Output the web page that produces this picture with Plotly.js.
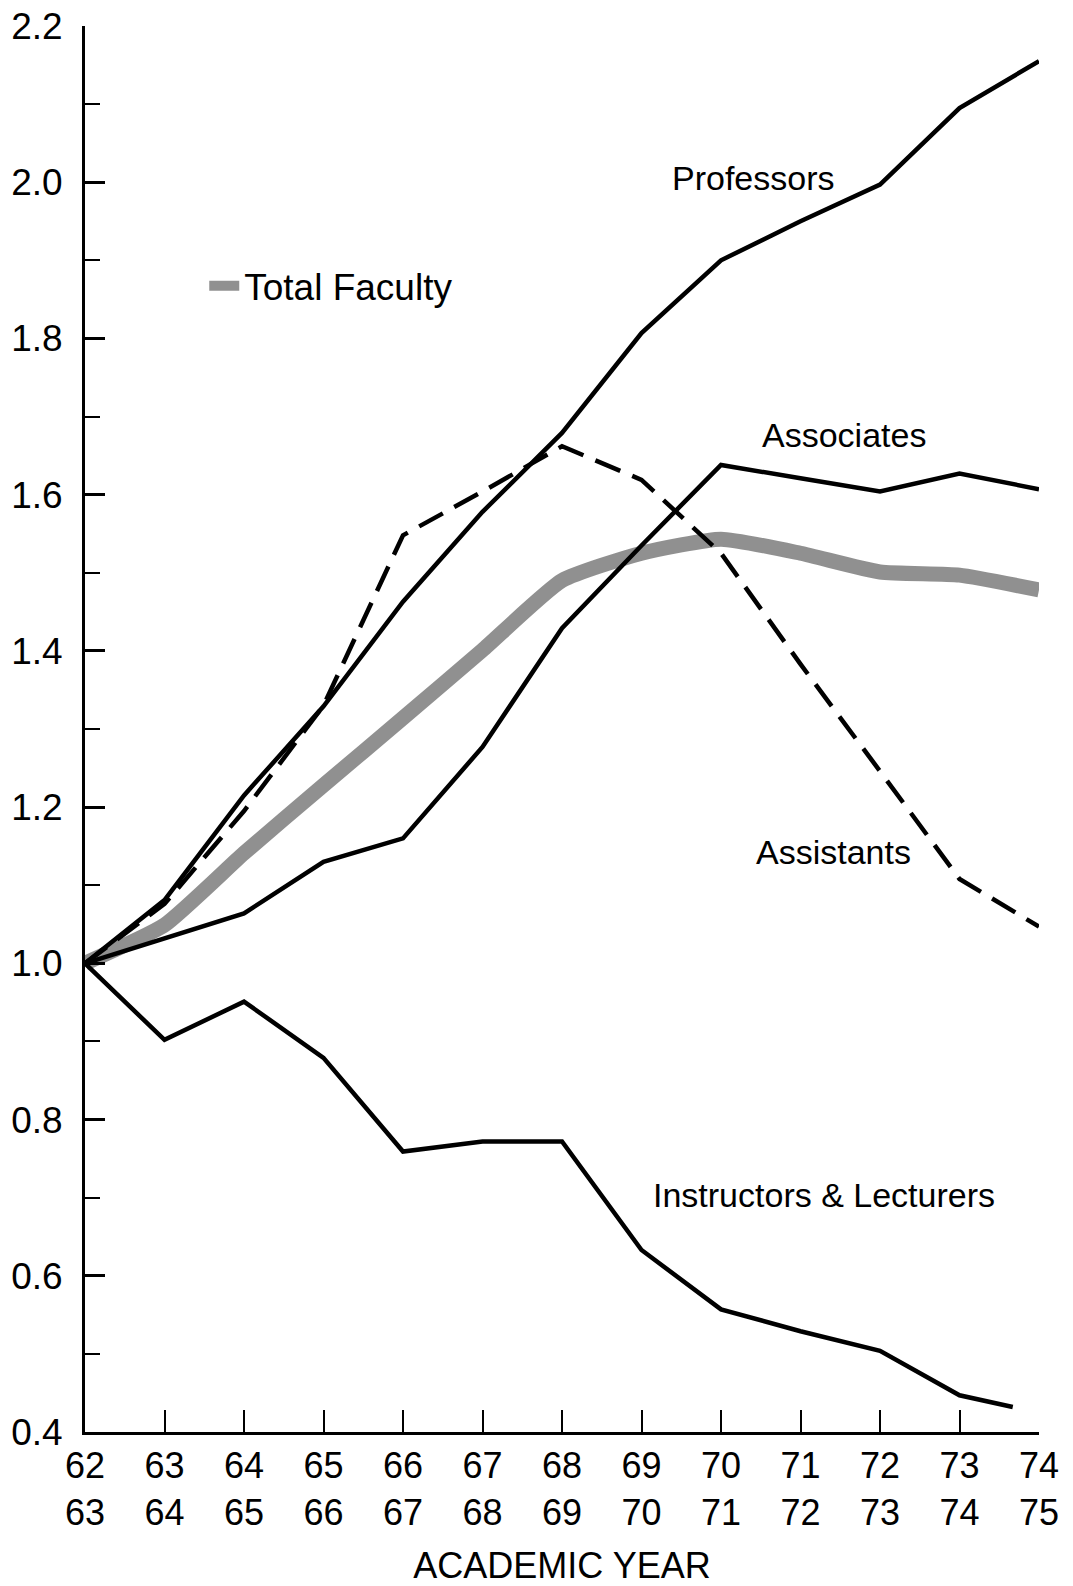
<!DOCTYPE html>
<html>
<head>
<meta charset="utf-8">
<script src="https://cdn.plot.ly/plotly-3.0.1.min.js"></script>
<style>html,body{margin:0;padding:0;background:#fff;}#chart{width:1073px;height:1586px;}</style>
</head>
<body>
<div id="chart"></div>
<script>
// Academic years (index positions on the x axis)
const yearIndex = [0,1,2,3,4,5,6,7,8,9,10,11,12];
const yearLabels = ["62<br>63","63<br>64","64<br>65","65<br>66","66<br>67","67<br>68","68<br>69","69<br>70","70<br>71","71<br>72","72<br>73","73<br>74","74<br>75"];

// Series (ratio to 1962-63)
const professors  = [1.0, 1.081, 1.215, 1.329, 1.463, 1.578, 1.679, 1.807, 1.900, 1.950, 1.997, 2.095, 2.155];
const associates  = [1.0, 1.032, 1.064, 1.130, 1.160, 1.277, 1.429, 1.535, 1.638, 1.621, 1.604, 1.627, 1.607];
const assistants  = [1.0, 1.076, 1.195, 1.330, 1.548, 1.604, 1.662, 1.619, 1.525, 1.383, 1.246, 1.108, 1.047];
const instructorsX = [0,1,2,3,4,5,6,7,8,9,10,11,11.67];
const instructors = [1.0, 0.902, 0.951, 0.879, 0.759, 0.772, 0.772, 0.633, 0.557, 0.529, 0.504, 0.447, 0.432];
const totalFaculty = [1.0, 1.049, 1.141, 1.228, 1.314, 1.401, 1.490, 1.525, 1.543, 1.525, 1.501, 1.497, 1.478];

// Y tick labels
const yTickVals = [0.4,0.6,0.8,1.0,1.2,1.4,1.6,1.8,2.0,2.2];
const yTickText = ["0.4","0.6","0.8","1.0","1.2","1.4","1.6","1.8","2.0","2.2"];

const FONT = "Liberation Sans, Arial, sans-serif";

const traces = [
  {x: yearIndex, y: totalFaculty, mode: "lines", name: "Total Faculty", showlegend: true,
   line: {color: "rgba(70,70,70,0.6)", width: 15, shape: "spline", smoothing: 0.5}, hoverinfo: "skip"},
  {x: yearIndex, y: professors, mode: "lines", name: "Professors", showlegend: false,
   line: {color: "#000", width: 4.5}},
  {x: yearIndex, y: associates, mode: "lines", name: "Associates", showlegend: false,
   line: {color: "#000", width: 4.5}},
  {x: yearIndex, y: assistants, mode: "lines", name: "Assistants", showlegend: false,
   line: {color: "#000", width: 4.5, dash: "27px,13px"}},
  {x: instructorsX, y: instructors, mode: "lines", name: "Instructors & Lecturers", showlegend: false,
   line: {color: "#000", width: 4.5}}
];

const layout = {
  width: 1073, height: 1586,
  margin: {l: 85, r: 34, t: 26, b: 154},
  paper_bgcolor: "#fff", plot_bgcolor: "#fff",
  font: {family: FONT, color: "#000", size: 34},
  showlegend: true,
  legend: {x: 0.125, y: 0.815, xanchor: "left", yanchor: "middle", bgcolor: "rgba(0,0,0,0)",
           font: {family: FONT, size: 37, color: "#000"}, itemwidth: 30, tracegroupgap: 0},
  xaxis: {
    range: [0, 12], showgrid: false, zeroline: false,
    showline: true, linecolor: "#000", linewidth: 3,
    tickmode: "array", tickvals: yearIndex, ticktext: yearLabels,
    ticks: "inside", ticklen: 22, tickwidth: 2, tickcolor: "#000",
    tickfont: {family: FONT, size: 36, color: "#000"},
    title: {text: "ACADEMIC YEAR", font: {family: FONT, size: 36, color: "#000"}, standoff: 32},
    fixedrange: true
  },
  yaxis: {
    range: [0.4, 2.2], showgrid: false, zeroline: false,
    showline: true, linecolor: "#000", linewidth: 3,
    tickmode: "array", tickvals: yTickVals, ticktext: yTickText,
    ticks: "inside", ticklen: 20, tickwidth: 3, tickcolor: "#000",
    ticklabelstandoff: 12,
    minor: {dtick: 0.1, tick0: 0.4, ticks: "inside", ticklen: 15, tickwidth: 2, tickcolor: "#000", showgrid: false},
    tickfont: {family: FONT, size: 37, color: "#000"},
    fixedrange: true
  },
  annotations: [
    {x: 8.415, y: 2.005, xref: "x", yref: "y", text: "Professors", showarrow: false,
     font: {family: FONT, size: 34, color: "#000"}},
    {x: 9.55, y: 1.676, xref: "x", yref: "y", text: "Associates", showarrow: false,
     font: {family: FONT, size: 34, color: "#000"}},
    {x: 9.42, y: 1.142, xref: "x", yref: "y", text: "Assistants", showarrow: false,
     font: {family: FONT, size: 34, color: "#000"}},
    {x: 9.30, y: 0.703, xref: "x", yref: "y", text: "Instructors &amp; Lecturers", showarrow: false,
     font: {family: FONT, size: 34, color: "#000"}}
  ]
};

Plotly.newPlot("chart", traces, layout, {staticPlot: true, displayModeBar: false});
</script>
</body>
</html>
